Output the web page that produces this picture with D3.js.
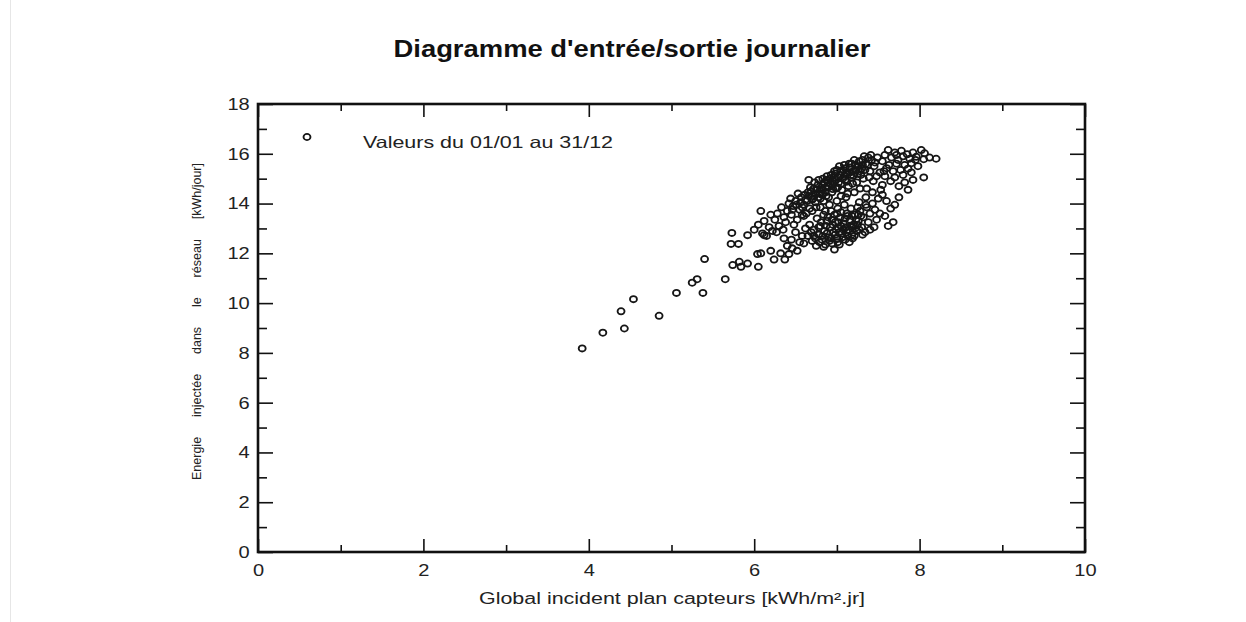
<!DOCTYPE html>
<html>
<head>
<meta charset="utf-8">
<script src="https://cdn.jsdelivr.net/npm/d3@7"></script>
<style>
  html, body { margin: 0; padding: 0; background: #fff; }
  svg { display: block; }
</style>
</head>
<body>
<svg id="chart" width="1246" height="622"></svg>
<script>
// Daily input/output values: [global incident irradiation kWh/m².day, injected energy kWh/day]
const lowDays = [
  [3.92,8.18],[4.17,8.81],[4.43,8.98],[4.39,9.67],[4.54,10.16],[4.85,9.49],[5.06,10.41],
  [5.38,10.41],[5.25,10.82],[5.31,10.96],[5.40,11.77],[5.65,10.96],[5.72,12.38],[5.81,12.38],
  [5.74,11.53],[5.82,11.66],[5.84,11.46],[5.92,11.59],[5.73,12.82],[6.05,11.46],[6.04,11.97],
  [6.08,12.00],[6.20,12.10],[6.24,11.75],[6.32,12.00],[6.37,11.75],[6.42,11.97],[6.52,12.10],
  [6.46,12.20],[6.84,12.26],[7.19,12.60],[5.92,12.73],[6.12,12.73]
];

const brightDays = [
  [7.62,16.15],[7.70,16.05],[7.78,16.12],[7.85,15.98],[7.92,16.05],[8.02,16.15],[8.06,16.02],
  [8.12,15.85],[8.20,15.80],[8.05,15.78],[7.96,15.88],[7.88,15.80],[7.80,15.90],[7.74,15.75],
  [7.66,15.85],[7.58,15.95],[7.55,15.70],[7.63,15.55],[7.72,15.60],[7.82,15.55],[7.90,15.62],
  [7.98,15.50],[7.86,15.40],[7.77,15.35],[7.68,15.30],[7.60,15.42],[7.52,15.25],[7.58,15.10],
  [7.70,15.05],[7.80,15.15],[7.90,15.25],[8.05,15.05],[7.92,14.95],[7.82,14.85],[7.75,14.70],
  [7.86,14.55],[7.65,14.90],[7.55,14.75],[7.95,15.75],[7.72,15.95]
];

const upperBand = [
  [6.00,12.95],[6.05,13.15],[6.10,12.80],[6.12,13.30],[6.18,13.05],[6.20,13.55],[6.15,12.70],
  [6.22,12.90],[6.08,13.70],[6.25,13.35],[6.28,13.60],[6.30,13.10],[6.33,13.85],[6.36,13.45],
  [6.38,13.25],[6.40,13.70],[6.27,12.85],[6.35,12.95],[6.42,14.00],[6.45,13.55],[6.47,13.90],
  [6.50,14.10],[6.52,13.35],[6.55,13.75],[6.57,14.25],[6.60,13.95],[6.48,13.15],[6.58,13.55],
  [6.44,14.20],[6.53,14.40],[6.62,14.15],[6.65,14.45],[6.67,13.80],[6.70,14.30],[6.72,14.60],
  [6.74,14.05],[6.77,14.75],[6.79,14.40],[6.63,13.60],[6.68,14.65],[6.75,13.85],[6.80,14.20],
  [6.66,14.95],[6.82,14.55],[6.85,14.85],[6.87,14.30],[6.90,14.70],[6.92,15.00],[6.94,14.45],
  [6.96,14.90],[6.98,15.20],[6.84,14.10],[6.91,13.95],[6.99,14.60],[6.88,15.10],[7.02,14.85],
  [7.04,15.15],[7.06,14.55],[7.08,15.35],[7.10,14.95],[7.12,15.25],[7.14,14.70],[7.16,15.45],
  [7.18,15.05],[7.20,15.30],[7.05,14.30],[7.13,14.40],[7.19,14.80],[7.22,15.55],[7.25,15.20],
  [7.27,15.70],[7.30,15.40],[7.32,15.00],[7.35,15.60],[7.38,15.85],[7.40,15.30],[7.42,15.75],
  [7.45,15.50],[7.48,15.10],[7.24,14.85],[7.36,14.60],[7.44,14.90],[7.33,15.90],
  [6.46,13.75],[6.51,13.95],[6.56,14.05],[6.61,14.35],[6.64,14.10],[6.69,14.50],[6.71,14.20],
  [6.73,14.85],[6.76,14.55],[6.78,14.95],[6.81,14.65],[6.83,15.00],[6.86,14.45],[6.89,14.85],
  [6.93,15.15],[6.95,14.75],[6.97,15.05],[7.00,15.35],[7.01,14.65],[7.03,15.50],[7.07,15.00],
  [7.09,15.55],[7.11,15.20],[7.15,15.60],[7.17,15.15],[7.21,15.75],[7.23,15.35],[7.26,15.50],
  [7.29,15.15],[7.31,15.75],[7.34,15.35],[7.37,15.55],[7.39,15.05],[7.41,15.95],[7.46,15.65],
  [7.49,15.85],[7.28,14.60],[7.21,14.45],[7.11,14.25],[7.00,14.10],[6.90,14.25],[6.80,13.85],
  [6.70,13.70],[6.60,13.50],[7.35,14.25],[7.43,14.45],[7.53,14.55],[7.57,15.30],[7.35,13.95],
  [7.25,13.85],
  [6.74,14.40],[6.78,14.25],[6.83,14.75],[6.86,14.62],[6.92,14.82],[6.95,14.58],[6.99,14.95],
  [7.02,15.05],[7.05,14.80],[7.09,15.10],[7.12,14.88],[7.16,15.25],[7.20,15.12],[7.24,15.45],
  [7.28,15.30],[7.31,15.55],[7.18,15.60],[7.10,15.42],[7.05,15.30],[6.97,15.30],[6.88,14.95],
  [6.82,14.35],[6.70,14.15],[6.66,14.30],[6.58,13.85]
];

const lowerBand = [
  [6.60,12.40],[6.65,12.70],[6.70,12.50],[6.72,12.95],[6.75,12.30],[6.78,12.75],[6.80,13.10],
  [6.82,12.55],[6.85,12.90],[6.88,13.30],[6.90,12.65],[6.92,13.05],[6.94,12.40],[6.96,12.85],
  [6.98,13.25],[7.00,12.60],[7.02,13.00],[7.04,13.45],[7.06,12.80],[7.08,13.20],[7.10,12.55],
  [7.12,13.60],[7.14,12.95],[7.16,13.35],[7.18,12.75],[7.20,13.15],[7.22,13.55],[7.24,12.90],
  [7.26,13.30],[7.28,13.70],[7.30,13.05],[7.32,13.45],[7.34,12.85],[7.36,13.85],[7.38,13.25],
  [7.40,13.60],[6.86,12.35],[6.97,12.15],[7.03,12.35],[7.15,12.45],[6.76,13.40],[6.84,13.55],
  [6.93,13.70],[7.01,13.80],[7.09,13.95],[7.17,13.80],[7.27,14.05],[7.43,14.00],[7.46,13.75],
  [7.50,14.20],[7.55,14.35],[7.60,14.10],[7.52,13.60],[7.48,13.35],[7.58,13.50],[7.65,13.80],
  [7.70,13.95],[7.75,14.25],[7.68,13.25],[7.62,13.10],[7.45,13.05],[7.40,12.95],[6.67,13.15],
  [6.62,13.00],[6.58,12.70],[6.55,12.45],[6.50,12.85],[6.45,12.55],[6.40,12.30],[6.36,12.60],
  [6.79,12.45],[6.83,12.70],[6.87,13.10],[6.91,12.50],[6.95,13.15],[6.99,12.95],[7.01,12.45],
  [7.05,13.10],[7.07,12.65],[7.11,13.05],[7.13,12.70],[7.19,13.05],[7.21,12.70],[7.23,13.35],
  [7.27,12.95],[7.29,13.50],[7.31,12.75],[6.81,13.25],[6.89,13.45],[6.97,13.55],[7.05,13.65],
  [7.13,13.50],[6.74,12.60],[6.69,12.85],
  [6.88,12.80],[6.93,12.60],[6.98,12.75],[7.03,12.85],[7.08,12.95],[7.12,12.85],[7.17,13.10],
  [7.22,13.00],[7.25,13.15],[7.02,13.25],[6.94,13.35],[7.10,13.40],[7.18,13.50],[7.26,13.55],
  [6.86,13.70],[7.00,13.60],[6.78,13.05],[6.72,12.70]
];

const xMajorTicks = [0, 2, 4, 6, 8, 10];
const xMinorTicks = [1, 3, 5, 7, 9];
const yMajorTicks = [0, 2, 4, 6, 8, 10, 12, 14, 16, 18];
const yMinorTicks = [1, 3, 5, 7, 9, 11, 13, 15, 17];

const titleText = "Diagramme d'entrée/sortie journalier";
const xTitleText = "Global incident plan capteurs [kWh/m².jr]";
const yTitleWords = ["Energie", "injectée", "dans", "le", "réseau", "[kWh/jour]"];
const legendText = "Valeurs du 01/01 au 31/12";

const allDays = [...lowDays, ...brightDays, ...upperBand, ...lowerBand];

// ---- layout ----
const svg = d3.select("#chart");
const plot = { left: 258, right: 1085, top: 104, bottom: 552 };
const FONT = "'Liberation Sans', Arial, sans-serif";
const STRETCH = 1.18;

const x = d3.scaleLinear().domain([0, 10]).range([plot.left, plot.right]);
const y = d3.scaleLinear().domain([0, 18]).range([plot.bottom, plot.top]);

// faint page edge on the left
svg.append("line")
  .attr("x1", 10.5).attr("x2", 10.5).attr("y1", 0).attr("y2", 622)
  .attr("stroke", "#e6e6e6").attr("stroke-width", 1);

// title
svg.append("text")
  .attr("x", 632).attr("y", 57)
  .attr("text-anchor", "middle")
  .attr("font-family", FONT).attr("font-weight", "bold").attr("font-size", 23.5)
  .attr("textLength", 477).attr("lengthAdjust", "spacingAndGlyphs")
  .attr("fill", "#111")
  .text(titleText);

function styleAxis(g, showLabels) {
  g.select(".domain").remove();
  g.selectAll(".tick line").attr("stroke", "#111").attr("stroke-width", 1.6);
  if (!showLabels) g.selectAll(".tick text").remove();
  else g.selectAll(".tick text")
        .attr("font-family", FONT).attr("font-size", 17).attr("fill", "#222")
        .attr("transform", `scale(${STRETCH},1)`);
}

// bottom axis: labelled even ticks, short odd ticks, all pointing inwards
svg.append("g").attr("transform", `translate(0,${plot.bottom})`)
  .call(d3.axisBottom(x).tickValues(xMajorTicks).tickSizeInner(-13).tickSizeOuter(0)
        .tickPadding(12).tickFormat(d3.format("d")))
  .call(g => styleAxis(g, true));
svg.append("g").attr("transform", `translate(0,${plot.bottom})`)
  .call(d3.axisBottom(x).tickValues(xMinorTicks).tickSizeInner(-7).tickSizeOuter(0))
  .call(g => styleAxis(g, false));

// top axis
svg.append("g").attr("transform", `translate(0,${plot.top})`)
  .call(d3.axisTop(x).tickValues(xMajorTicks).tickSizeInner(-13).tickSizeOuter(0))
  .call(g => styleAxis(g, false));
svg.append("g").attr("transform", `translate(0,${plot.top})`)
  .call(d3.axisTop(x).tickValues(xMinorTicks).tickSizeInner(-7).tickSizeOuter(0))
  .call(g => styleAxis(g, false));

// left axis
svg.append("g").attr("transform", `translate(${plot.left},0)`)
  .call(d3.axisLeft(y).tickValues(yMajorTicks).tickSizeInner(-15).tickSizeOuter(0)
        .tickPadding(7).tickFormat(d3.format("d")))
  .call(g => styleAxis(g, true));
svg.append("g").attr("transform", `translate(${plot.left},0)`)
  .call(d3.axisLeft(y).tickValues(yMinorTicks).tickSizeInner(-9).tickSizeOuter(0))
  .call(g => styleAxis(g, false));

// right axis
svg.append("g").attr("transform", `translate(${plot.right},0)`)
  .call(d3.axisRight(y).tickValues(yMajorTicks).tickSizeInner(-15).tickSizeOuter(0))
  .call(g => styleAxis(g, false));
svg.append("g").attr("transform", `translate(${plot.right},0)`)
  .call(d3.axisRight(y).tickValues(yMinorTicks).tickSizeInner(-9).tickSizeOuter(0))
  .call(g => styleAxis(g, false));

// frame
svg.append("rect")
  .attr("x", plot.left).attr("y", plot.top)
  .attr("width", plot.right - plot.left).attr("height", plot.bottom - plot.top)
  .attr("fill", "none").attr("stroke", "#111").attr("stroke-width", 2.6);

// daily points
svg.append("g")
  .selectAll("ellipse")
  .data(allDays)
  .join("ellipse")
  .attr("cx", d => x(d[0]))
  .attr("cy", d => y(d[1]))
  .attr("rx", 3.5).attr("ry", 3.1)
  .attr("fill", "none")
  .attr("stroke", "#161616")
  .attr("stroke-width", 1.8);

// legend
svg.append("ellipse")
  .attr("cx", plot.left + 49).attr("cy", plot.top + 33)
  .attr("rx", 3.5).attr("ry", 3.1)
  .attr("fill", "none").attr("stroke", "#161616").attr("stroke-width", 1.8);
svg.append("text")
  .attr("x", plot.left + 105).attr("y", plot.top + 44)
  .attr("font-family", FONT).attr("font-size", 16.5).attr("fill", "#222")
  .attr("textLength", 250).attr("lengthAdjust", "spacingAndGlyphs")
  .text(legendText);

// x axis title
svg.append("text")
  .attr("x", 672).attr("y", 604)
  .attr("text-anchor", "middle")
  .attr("font-family", FONT).attr("font-size", 16).attr("fill", "#222")
  .attr("textLength", 386).attr("lengthAdjust", "spacingAndGlyphs")
  .text(xTitleText);

// y axis title: words spread evenly along the axis height
const yTitle = svg.append("g").attr("transform", "translate(201,0) rotate(-90)");
const yStart = -480, yEnd = -163;   // rotated coordinates (bottom → top)
const wordNodes = yTitle.selectAll("text")
  .data(yTitleWords)
  .join("text")
  .attr("font-family", FONT).attr("font-size", 12.5).attr("fill", "#222")
  .text(d => d);
const widths = wordNodes.nodes().map(n => n.getComputedTextLength());
const totalW = d3.sum(widths);
const gap = ((yEnd - yStart) - totalW) / (yTitleWords.length - 1);
let pos = yStart;
wordNodes.each(function(d, i) {
  d3.select(this).attr("x", pos).attr("y", 0);
  pos += widths[i] + gap;
});
</script>
</body>
</html>
